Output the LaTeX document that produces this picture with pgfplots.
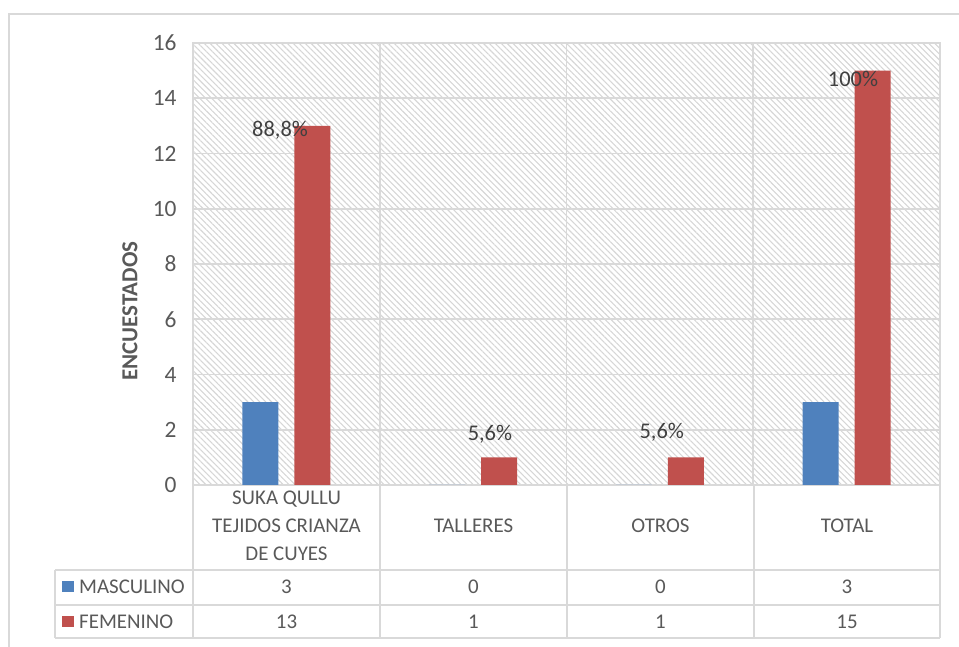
\documentclass[border=0pt]{standalone}
\usepackage{pgfplots}
\pgfplotsset{compat=1.18}
\usepackage{fontspec}
\setmainfont{Carlito}
\usetikzlibrary{patterns.meta}
\definecolor{blu}{HTML}{4F81BD}
\definecolor{rd}{HTML}{C0504D}
\definecolor{grd}{HTML}{D9D9D9}
\definecolor{txt}{HTML}{595959}
\definecolor{lbl}{HTML}{404040}
\definecolor{hat}{HTML}{D6D6D6}
\begin{document}
\begin{tikzpicture}[x=1bp,y=1bp]
\path[use as bounding box] (0,0) rectangle (959,647);
\draw[grd, line width=1.3bp] (9,0) -- (9,633) -- (959,633);
\begin{axis}[
 at={(193bp,162bp)}, anchor=south west, scale only axis,
 width=747bp, height=442bp,
 xmin=0, xmax=4, ymin=0, ymax=16,
 ytick={0,2,...,16},
 xtick={1,2,3}, xticklabels={},
 xmajorgrids, ymajorgrids,
 grid style={grd, line width=1.6bp},
 axis line style={grd, line width=1.6bp},
 major tick length=0,
 tick label style={font=\fontsize{23.5}{27}\selectfont, text=txt},
 /pgf/number format/assume math mode=true,
 yticklabel style={xshift=-13bp},
 axis background/.style={pattern={Lines[angle=-45,distance=4.2bp,line width=1.1bp]}, pattern color=hat},
 ybar, bar width=36bp,
 clip=false,
]
\addplot[fill=blu, draw=none, bar shift=-26bp] coordinates {(0.5,3) (1.5,0) (2.5,0) (3.5,3)};
\addplot[fill=rd, draw=none, bar shift=26bp] coordinates {(0.5,13) (1.5,1) (2.5,1) (3.5,15)};
\node[font=\fontsize{22.5}{26}\selectfont, text=lbl] at (axis cs:0.466,12.85) {88,8\%};
\node[font=\fontsize{22.5}{26}\selectfont, text=lbl] at (axis cs:1.59,1.85) {5,6\%};
\node[font=\fontsize{22.5}{26}\selectfont, text=lbl] at (axis cs:2.51,1.92) {5,6\%};
\node[font=\fontsize{22.5}{26}\selectfont, text=lbl] at (axis cs:3.534,14.70) {100\%};
\end{axis}
% y title
\node[rotate=90, font=\bfseries\fontsize{23}{27}\selectfont, text=txt] at (130,336) {ENCUESTADOS};
% data table lines
\begin{scope}[grd, line width=1.6bp]
\draw (55,77) -- (940,77);
\draw (55,42) -- (940,42);
\draw (55,9) -- (940,9);
\draw (55,77) -- (55,9);
\foreach \xx in {193,380,567,754,940} \draw (\xx,162) -- (\xx,9);
\end{scope}
\begin{scope}[font=\fontsize{21}{28}\selectfont, text=txt]
\node[align=center] at (286.5,121) {SUKA QULLU\\TEJIDOS CRIANZA\\DE CUYES};
\node at (473.5,121) {TALLERES};
\node at (660.5,121) {OTROS};
\node at (847,121) {TOTAL};
\node at (286.5,60) {3};
\node at (473.5,60) {0};
\node at (660.5,60) {0};
\node at (847,60) {3};
\node at (286.5,25) {13};
\node at (473.5,25) {1};
\node at (660.5,25) {1};
\node at (847,25) {15};
\fill[blu] (62,55) rectangle (74,66);
\fill[rd] (62,20) rectangle (74,31);
\node[anchor=west, inner sep=0pt] at (79,60) {MASCULINO};
\node[anchor=west, inner sep=0pt] at (79,25) {FEMENINO};
\end{scope}
\end{tikzpicture}
\end{document}
